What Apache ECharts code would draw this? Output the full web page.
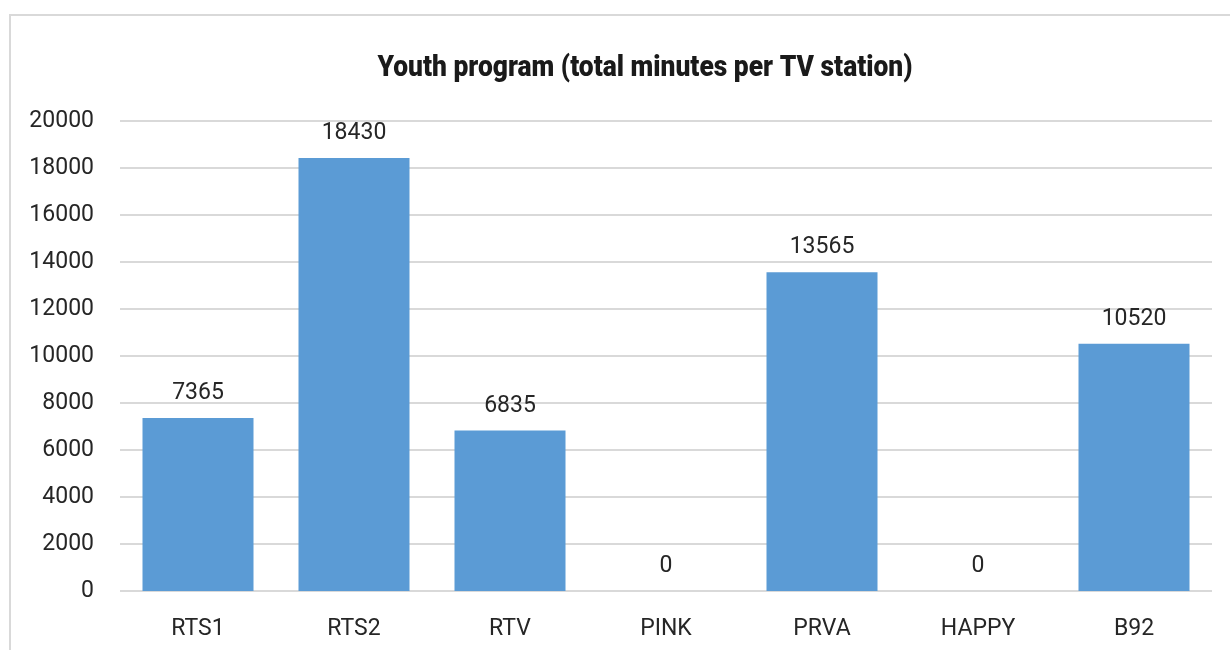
<!DOCTYPE html>
<html><head><meta charset="utf-8">
<script src="https://cdn.jsdelivr.net/npm/echarts@6/dist/echarts.min.js"></script>
<style>html,body{margin:0;padding:0;background:#fff}#c{width:1230px;height:650px}</style>
</head><body><div id="c"></div>
<script>
var categories = ['RTS1','RTS2','RTV','PINK','PRVA','HAPPY','B92'];
var minutes = [7365, 18430, 6835, 0, 13565, 0, 10520];
var titleText = 'Youth program (total minutes per TV station)';

var titleFont = '900 29px Roboto';
var mctx = document.createElement('canvas').getContext('2d');
mctx.font = titleFont;
var titleScale = 535 / mctx.measureText(titleText).width;

var chart = echarts.init(document.getElementById('c'));
chart.setOption({
  animation: false,
  backgroundColor: '#fff',
  graphic: [{
    type: 'rect', shape: {x: 10, y: 15, width: 1240, height: 700},
    style: {fill: 'none', stroke: '#d9d9d9', lineWidth: 2}, silent: true
  }, {
    type: 'text', x: 645, y: 69, scaleX: titleScale, silent: true,
    style: {x: 0, y: 0, text: titleText, align: 'center', verticalAlign: 'middle',
      font: titleFont, fill: '#1a1a1a'}
  }],
  grid: {left: 120, right: 18, top: 121, bottom: 59, containLabel: false},
  xAxis: {
    type: 'category', data: categories,
    axisLine: {show: false}, axisTick: {show: false},
    axisLabel: {fontFamily: 'Roboto', fontSize: 23, color: '#262626', margin: 27}
  },
  yAxis: {
    type: 'value', min: 0, max: 20000, interval: 2000,
    axisLine: {show: false}, axisTick: {show: false},
    axisLabel: {fontFamily: 'Roboto', fontSize: 23, color: '#262626', margin: 26,
      formatter: function (v) { return String(v); }},
    splitLine: {lineStyle: {color: '#d9d9d9', width: 2}}
  },
  series: [{
    type: 'bar', data: minutes, barWidth: 111,
    itemStyle: {color: '#5b9bd5'},
    label: {show: true, position: 'top', distance: 13, fontFamily: 'Roboto', fontSize: 23, color: '#262626'}
  }]
});
</script></body></html>
